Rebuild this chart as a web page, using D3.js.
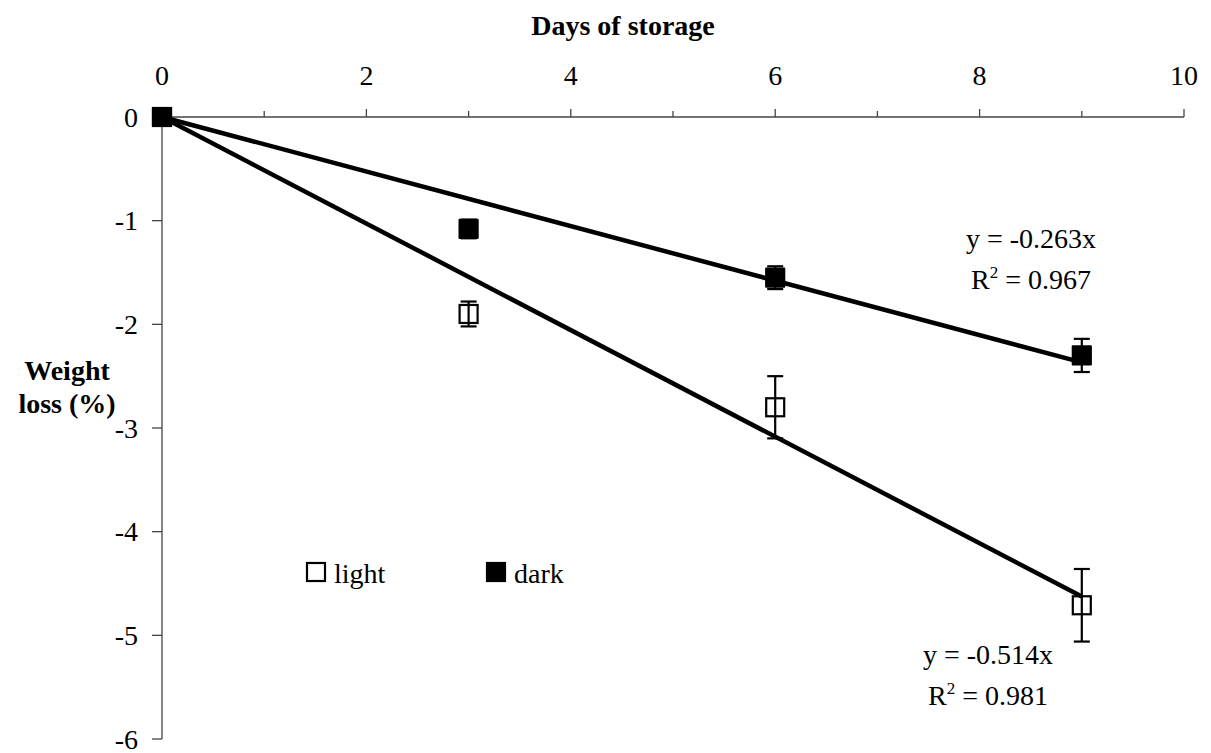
<!DOCTYPE html>
<html>
<head>
<meta charset="utf-8">
<script src="https://cdn.jsdelivr.net/npm/d3@7"></script>
<style>
  html, body { margin: 0; padding: 0; background: #fff; }
  svg text { font-family: "Liberation Serif", "Times New Roman", serif; fill: #000; }
</style>
</head>
<body>
<svg id="chart" width="1211" height="753"></svg>
<script>
// Storage days and mean weight loss (%) with error values
const days = [0, 3, 6, 9];
const lightLoss = [0, -1.90, -2.80, -4.71];
const lightErr = [0, 0.12, 0.30, 0.35];
const darkLoss = [0, -1.08, -1.55, -2.30];
const darkErr = [0, 0.09, 0.11, 0.16];

// Linear fits through the origin
const lightSlope = -0.514, lightR2 = "0.981";
const darkSlope = -0.263, darkR2 = "0.967";

const xTicks = [0, 2, 4, 6, 8, 10];
const xMinorTicks = [1, 3, 5, 7, 9];
const yTicks = [0, -1, -2, -3, -4, -5, -6];

const svg = d3.select("#chart");

const x = d3.scaleLinear().domain([0, 10]).range([162, 1184]);
const y = d3.scaleLinear().domain([0, -6]).range([117, 739]);

const axisColor = "#444";

// x axis along the top (at y = 0)
const xAxis = svg.append("g");
xAxis.append("line")
  .attr("x1", x(0)).attr("x2", x(10))
  .attr("y1", y(0)).attr("y2", y(0))
  .attr("stroke", axisColor).attr("stroke-width", 1.3);
xAxis.selectAll(".major").data(xTicks).join("line")
  .attr("x1", d => x(d)).attr("x2", d => x(d))
  .attr("y1", y(0)).attr("y2", y(0) - 8)
  .attr("stroke", axisColor).attr("stroke-width", 1.3);
xAxis.selectAll(".minor").data(xMinorTicks).join("line")
  .attr("x1", d => x(d)).attr("x2", d => x(d))
  .attr("y1", y(0)).attr("y2", y(0) - 6)
  .attr("stroke", axisColor).attr("stroke-width", 1.3);
xAxis.selectAll("text").data(xTicks).join("text")
  .attr("x", d => x(d)).attr("y", 85)
  .attr("text-anchor", "middle")
  .attr("font-size", 28)
  .text(d => d);

// y axis
const yAxis = svg.append("g");
yAxis.append("line")
  .attr("x1", x(0)).attr("x2", x(0))
  .attr("y1", y(0)).attr("y2", y(-6))
  .attr("stroke", axisColor).attr("stroke-width", 1.3);
yAxis.selectAll("line.tick").data(yTicks).join("line")
  .attr("class", "tick")
  .attr("x1", x(0) - 10).attr("x2", x(0))
  .attr("y1", d => y(d)).attr("y2", d => y(d))
  .attr("stroke", axisColor).attr("stroke-width", 1.3);
yAxis.selectAll("text").data(yTicks).join("text")
  .attr("x", 138).attr("y", d => y(d))
  .attr("dy", "0.34em")
  .attr("text-anchor", "end")
  .attr("font-size", 28)
  .text(d => d === 0 ? "0" : "-" + Math.abs(d));

// Axis titles
svg.append("text")
  .attr("x", 623).attr("y", 35)
  .attr("text-anchor", "middle")
  .attr("font-size", 28).attr("font-weight", "bold")
  .text("Days of storage");
const yTitle = svg.append("text")
  .attr("text-anchor", "middle")
  .attr("font-size", 28).attr("font-weight", "bold");
yTitle.append("tspan").attr("x", 67).attr("y", 380).text("Weight");
yTitle.append("tspan").attr("x", 67).attr("y", 413).text("loss (%)");

// Trend lines
const xEnd = days[days.length - 1];
svg.append("line")
  .attr("x1", x(0)).attr("y1", y(0))
  .attr("x2", x(xEnd)).attr("y2", y(lightSlope * xEnd))
  .attr("stroke", "#000").attr("stroke-width", 4.5);
svg.append("line")
  .attr("x1", x(0)).attr("y1", y(0))
  .attr("x2", x(xEnd)).attr("y2", y(darkSlope * xEnd))
  .attr("stroke", "#000").attr("stroke-width", 4.5);

// Error bars
function errorBars(vals, errs) {
  const g = svg.append("g");
  const pts = days.map((d, i) => ({ d, v: vals[i], e: errs[i] })).filter(p => p.e > 0);
  g.selectAll("line.v").data(pts).join("line")
    .attr("x1", p => x(p.d)).attr("x2", p => x(p.d))
    .attr("y1", p => y(p.v + p.e)).attr("y2", p => y(p.v - p.e))
    .attr("stroke", "#000").attr("stroke-width", 2.2);
  [1, -1].forEach(s => {
    g.selectAll("line.c" + s).data(pts).join("line")
      .attr("x1", p => x(p.d) - 8).attr("x2", p => x(p.d) + 8)
      .attr("y1", p => y(p.v + s * p.e)).attr("y2", p => y(p.v + s * p.e))
      .attr("stroke", "#000").attr("stroke-width", 2.2);
  });
}
errorBars(lightLoss, lightErr);
errorBars(darkLoss, darkErr);

// Markers
const half = 9;
svg.append("g").selectAll("rect").data(days.map((d, i) => ({ d, v: lightLoss[i] }))).join("rect")
  .attr("x", p => x(p.d) - half).attr("y", p => y(p.v) - half)
  .attr("width", 2 * half).attr("height", 2 * half)
  .attr("fill", "none").attr("stroke", "#000").attr("stroke-width", 2.2);
svg.append("g").selectAll("rect").data(days.map((d, i) => ({ d, v: darkLoss[i] }))).join("rect")
  .attr("x", p => x(p.d) - half).attr("y", p => y(p.v) - half)
  .attr("width", 2 * half).attr("height", 2 * half)
  .attr("fill", "#000").attr("stroke", "#000").attr("stroke-width", 2.2)
  .attr("stroke-linejoin", "round");

// Fit equations
function equation(cx, yBase, slope, r2) {
  const t = svg.append("text").attr("text-anchor", "middle").attr("font-size", 28);
  t.append("tspan").attr("x", cx).attr("y", yBase).text("y = " + slope + "x");
  const t2 = svg.append("text").attr("text-anchor", "middle").attr("font-size", 28)
    .attr("x", cx).attr("y", yBase + 41);
  t2.append("tspan").text("R");
  t2.append("tspan").attr("font-size", 17).attr("dy", -11).text("2");
  t2.append("tspan").attr("dy", 11).text(" = " + r2);
}
equation(1031, 248, darkSlope, darkR2);
equation(988, 664, lightSlope, lightR2);

// Legend
const legend = svg.append("g");
legend.append("rect")
  .attr("x", 307).attr("y", 563).attr("width", 18).attr("height", 18)
  .attr("fill", "none").attr("stroke", "#000").attr("stroke-width", 2.2);
legend.append("text").attr("x", 334).attr("y", 583).attr("font-size", 28).text("light");
legend.append("rect")
  .attr("x", 487).attr("y", 563).attr("width", 18).attr("height", 18)
  .attr("fill", "#000").attr("stroke", "#000").attr("stroke-width", 2.2);
legend.append("text").attr("x", 514).attr("y", 583).attr("font-size", 28).text("dark");
</script>
</body>
</html>
